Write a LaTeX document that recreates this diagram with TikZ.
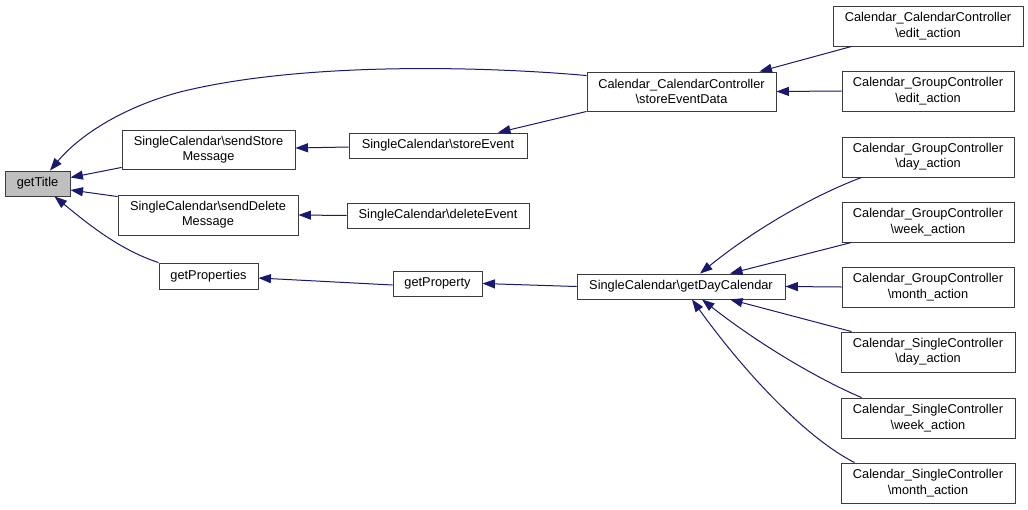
\documentclass[tikz,border=0pt]{standalone}
\usepackage{fontspec}
\setmainfont{Liberation Sans}
\usetikzlibrary{arrows.meta}
\definecolor{edgeblue}{RGB}{25,25,112}
\definecolor{boxline}{RGB}{60,60,60}
\begin{document}
\begin{tikzpicture}[x=1pt,y=-1pt,
  box/.style={draw=boxline,line width=0.9pt,fill=white,inner sep=0pt,align=center,
    font=\fontsize{12.8}{15.3}\selectfont},
  edge/.style={draw=edgeblue,line width=1pt,-{Triangle[length=12.5pt,width=9pt]}}]
\useasboundingbox[fill=white] (0,0) rectangle (1028,509);
% nodes
\node[box,fill={rgb,255:red,191;green,191;blue,191},minimum width=65pt,minimum height=25pt] (gt) at (37.5,183.5) {getTitle};
\node[box,minimum width=173pt,minimum height=39pt] (ss) at (208.5,149.5) {SingleCalendar\textbackslash sendStore\\Message};
\node[box,minimum width=180pt,minimum height=40pt] (sdl) at (208,215) {SingleCalendar\textbackslash sendDelete\\Message};
\node[box,minimum width=99pt,minimum height=26pt] (gp) at (208.5,276) {getProperties};
\node[box,minimum width=178pt,minimum height=25pt] (se) at (438,145.5) {SingleCalendar\textbackslash storeEvent};
\node[box,minimum width=182pt,minimum height=25pt] (de) at (438,215.5) {SingleCalendar\textbackslash deleteEvent};
\node[box,minimum width=89pt,minimum height=25pt] (gpy) at (437.5,283.5) {getProperty};
\node[box,minimum width=189pt,minimum height=39pt] (sed) at (681.5,91.5) {Calendar\_CalendarController\\\textbackslash storeEventData};
\node[box,minimum width=208pt,minimum height=25pt] (gdc) at (681,286.5) {SingleCalendar\textbackslash getDayCalendar};
\node[box,minimum width=190pt,minimum height=40pt] (cce) at (928,26) {Calendar\_CalendarController\\\textbackslash edit\_action};
\node[box,minimum width=172pt,minimum height=40pt] (gce) at (928,91) {Calendar\_GroupController\\\textbackslash edit\_action};
\node[box,minimum width=172pt,minimum height=40pt] (gcd) at (928,157) {Calendar\_GroupController\\\textbackslash day\_action};
\node[box,minimum width=172pt,minimum height=40pt] (gcw) at (928,222) {Calendar\_GroupController\\\textbackslash week\_action};
\node[box,minimum width=172pt,minimum height=40pt] (gcm) at (928,287) {Calendar\_GroupController\\\textbackslash month\_action};
\node[box,minimum width=174pt,minimum height=40pt] (scd) at (928,352) {Calendar\_SingleController\\\textbackslash day\_action};
\node[box,minimum width=174pt,minimum height=40pt] (scw) at (928,418) {Calendar\_SingleController\\\textbackslash week\_action};
\node[box,minimum width=174pt,minimum height=40pt] (scm) at (928,483) {Calendar\_SingleController\\\textbackslash month\_action};
% edges
\draw[edge] ([yshift=-4pt]sed.north west) .. controls (480,66) and (300,62) .. (180,92) .. controls (120,108) and (78,137) .. ([xshift=12.5pt]gt.north);
\draw[edge] ([yshift=2pt]ss.south west) -- ([yshift=6pt]gt.east);
\draw[edge] ([yshift=-2pt]sdl.north west) -- ([yshift=-6.5pt]gt.east);
\draw[edge] (gp.north west) .. controls (120,250) and (88,224) .. ([xshift=17pt]gt.south);
\draw[edge] ([yshift=-1.5pt]se.west) -- ([yshift=1.5pt]ss.east);
\draw[edge] (de.west) -- (sdl.east);
\draw[edge] ([yshift=-1.5pt]gpy.west) -- ([yshift=-2pt]gp.east);
\draw[edge] (sed.south west) -- ([xshift=60pt]se.north);
\draw[edge] (gdc.west) -- (gpy.east);
\draw[edge] ([xshift=19pt]cce.south west) -- ([xshift=-17pt]sed.north east);
\draw[edge] (gce.west) -- (sed.east);
\draw[edge] ([xshift=20pt]gcd.south west) .. controls (820,193) and (760,225) .. ([xshift=19pt]gdc.north);
\draw[edge] ([xshift=10pt]gcw.south west) -- ([xshift=49pt]gdc.north);
\draw[edge] (gcm.west) -- (gdc.east);
\draw[edge] ([xshift=11pt]scd.north west) -- ([xshift=49pt]gdc.south);
\draw[edge] ([xshift=21pt]scw.north west) .. controls (820,380) and (760,345) .. ([xshift=21pt]gdc.south);
\draw[edge] ([xshift=14pt]scm.north west) .. controls (810,440) and (750,380) .. ([xshift=11pt]gdc.south);
\end{tikzpicture}
\end{document}
